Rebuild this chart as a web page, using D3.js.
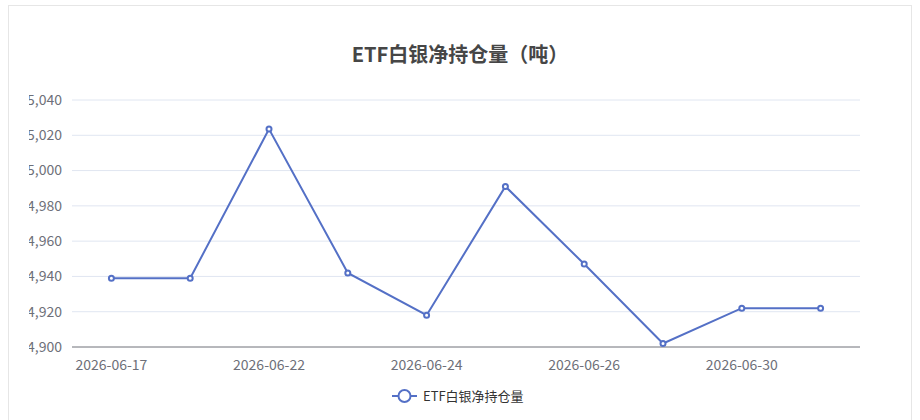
<!DOCTYPE html>
<html><head><meta charset="utf-8">
<script src="https://cdn.jsdelivr.net/npm/d3@7"></script>
<style>
body{margin:0;background:#fff;font-family:"Noto Sans CJK SC","Noto Sans",sans-serif;}
</style></head>
<body><svg id="chart" width="920" height="420"></svg>
<script>
// données
const dates = ["2026-06-17","2026-06-18","2026-06-22","2026-06-23","2026-06-24","2026-06-25","2026-06-26","2026-06-29","2026-06-30","2026-07-01"];
const holdings = [14939, 14939, 15023.5, 14942, 14918, 14991, 14947, 14902, 14922, 14922];
const yTicks = [14900, 14920, 14940, 14960, 14980, 15000, 15020, 15040];
const seriesName = "ETF白银净持仓量";

const svg = d3.select("#chart");
svg.append("rect").attr("x", 8.5).attr("y", 5.5).attr("width", 903).attr("height", 420)
    .attr("fill", "#fff").attr("stroke", "#e6e6e6");

svg.append("text").attr("x", 460).attr("y", 62).attr("text-anchor", "middle")
    .attr("font-size", 20).attr("font-weight", "bold").attr("fill", "#464646")
    .text("ETF白银净持仓量（吨）");

const plotLeft = 72, plotRight = 860, plotTop = 100, plotBottom = 347;
const x = d3.scaleBand().domain(dates).range([plotLeft, plotRight]);
const y = d3.scaleLinear().domain([14900, 15040]).range([plotBottom, plotTop]);

// clip pour les étiquettes coupées à gauche
svg.append("clipPath").attr("id", "clipL").append("rect")
    .attr("x", 29).attr("y", 0).attr("width", 900).attr("height", 420);

const g = svg.append("g").attr("clip-path", "url(#clipL)");
g.selectAll(".grid").data(yTicks.slice(1)).join("line")
    .attr("x1", plotLeft).attr("x2", plotRight)
    .attr("y1", d => y(d)).attr("y2", d => y(d))
    .attr("stroke", "#e0e6f1");
g.selectAll(".ylab").data(yTicks).join("text")
    .attr("x", 62).attr("y", d => y(d)).attr("dy", "0.35em")
    .attr("text-anchor", "end").attr("font-size", 14).attr("fill", "#6e7079")
    .text(d => d3.format(",")(d));

svg.append("line").attr("x1", plotLeft).attr("x2", plotRight).attr("y1", plotBottom).attr("y2", plotBottom)
    .attr("stroke", "#6e7079");
svg.selectAll(".xlab").data(dates.filter((d, i) => i % 2 === 0)).join("text")
    .attr("x", d => x(d) + x.bandwidth() / 2).attr("y", 370)
    .attr("text-anchor", "middle").attr("font-size", 14).attr("fill", "#6e7079")
    .text(d => d);

const line = d3.line().x((d, i) => x(dates[i]) + x.bandwidth() / 2).y(d => y(d));
svg.append("path").datum(holdings).attr("d", line)
    .attr("fill", "none").attr("stroke", "#5470c6").attr("stroke-width", 2);
svg.selectAll(".pt").data(holdings).join("circle")
    .attr("cx", (d, i) => x(dates[i]) + x.bandwidth() / 2).attr("cy", d => y(d))
    .attr("r", 2.5).attr("fill", "#fff").attr("stroke", "#5470c6").attr("stroke-width", 2);

// légende
const lg = svg.append("g").attr("transform", "translate(392,396)");
lg.append("line").attr("x1", 0).attr("x2", 25).attr("stroke", "#5470c6").attr("stroke-width", 2);
lg.append("circle").attr("cx", 12.5).attr("r", 6).attr("fill", "#fff").attr("stroke", "#5470c6").attr("stroke-width", 2);
lg.append("text").attr("x", 31).attr("dy", "0.35em").attr("font-size", 13).attr("fill", "#333").text(seriesName);
</script></body></html>
